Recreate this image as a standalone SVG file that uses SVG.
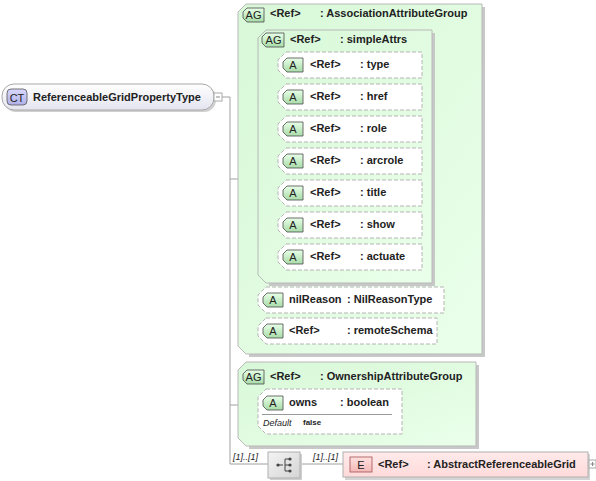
<svg xmlns="http://www.w3.org/2000/svg" width="596" height="481" viewBox="0 0 596 481">
<defs>
<linearGradient id="gG" x1="0" y1="0" x2="1" y2="1"><stop offset="0" stop-color="#d8f8d8"/><stop offset="1" stop-color="#eaffea"/></linearGradient>
<linearGradient id="gBadge" x1="0" y1="0" x2="0" y2="1"><stop offset="0" stop-color="#e8ffe8"/><stop offset="1" stop-color="#a8dca8"/></linearGradient>
<linearGradient id="gCT" x1="0" y1="0" x2="0" y2="1"><stop offset="0" stop-color="#ffffff"/><stop offset="1" stop-color="#e4e4f0"/></linearGradient>
<linearGradient id="gCTb" x1="0" y1="0" x2="0" y2="1"><stop offset="0" stop-color="#d8d8ff"/><stop offset="1" stop-color="#b0b0e8"/></linearGradient>
<linearGradient id="gE" x1="0" y1="0" x2="0" y2="1"><stop offset="0" stop-color="#ffeaea"/><stop offset="1" stop-color="#ffdada"/></linearGradient>
<linearGradient id="gEb" x1="0" y1="0" x2="0" y2="1"><stop offset="0" stop-color="#ffe0e0"/><stop offset="1" stop-color="#f4b8b8"/></linearGradient>
<linearGradient id="gS" x1="0" y1="0" x2="1" y2="1"><stop offset="0" stop-color="#f4f4f4"/><stop offset="1" stop-color="#d4d4d4"/></linearGradient>
</defs>
<style>
text{font-family:"Liberation Sans",Arial,sans-serif;font-size:11px;fill:#222}
.b{font-weight:bold}
.bd{font-size:11px;fill:#222}
.it{font-style:italic;font-size:9px}
.grp{fill:url(#gG);stroke:#b8b8b8;stroke-width:1}
.shd{fill:#c8c8c8;stroke:none}
.att{fill:#ffffff;stroke:#b4b4b4;stroke-width:1;stroke-dasharray:4,2}
.abg{fill:url(#gBadge);stroke:#4a4a4a;stroke-width:0.8}
.ln{fill:none;stroke:#a0a0a0;stroke-width:1}
</style>

<g id="connectors">
<path class="ln" d="M222,97 H230 V464 H268"/>
<path class="ln" d="M230,179 H238"/>
<path class="ln" d="M230,405 H238"/>
<path class="ln" d="M300,464 H343"/>
<path class="ln" d="M249,154 V331 H258 M249,154 H258 M249,300 H258"/>
<path class="ln" d="M268,65 V257 H278 M268,65 H278 M268,97 H278 M268,129 H278 M268,161 H278 M268,193 H278 M268,225 H278"/>
<path class="ln" d="M238,412 H258"/>
</g>

<g id="ct">
<rect x="4" y="86" width="212" height="26" rx="12" fill="#d0d0d0"/>
<rect x="2" y="84" width="212" height="26" rx="12" fill="url(#gCT)" stroke="#a8a8a8"/>
<rect x="7" y="89" width="20" height="16" rx="4" fill="url(#gCTb)" stroke="#555" stroke-width="0.8"/>
<text x="17" y="101.5" text-anchor="middle" class="bd">CT</text>
<text x="33" y="101" class="b">ReferenceableGridPropertyType</text>
<rect x="214" y="93" width="8" height="8" fill="#fff" stroke="#aaa"/>
<path d="M216,97 H220" stroke="#888"/>
</g>

<g id="ag-association">
<path class="shd" d="M249,7 H485 V357 H249 Z"/>
<path class="grp" d="M246,4 H482 V354 H246 L238,346 V12 Z"/>
<path class="abg" d="M247,8 H264 V22 H247 L243,18 V12 Z"/>
<text x="253.5" y="19" text-anchor="middle" class="bd">AG</text>
<text x="270" y="17" class="b">&lt;Ref&gt;</text>
<text x="320" y="17" class="b">: AssociationAttributeGroup</text>
</g>

<g id="ag-simpleattrs">
<path class="shd" d="M269,33 H435 V286 H269 Z"/>
<path class="grp" d="M266,30 H432 V283 H266 L258,275 V38 Z"/>
<path class="abg" d="M266,33 H284 V47 H266 L262,43 V37 Z"/>
<text x="273.5" y="44" text-anchor="middle" class="bd">AG</text>
<text x="290" y="43" class="b">&lt;Ref&gt;</text>
<text x="340" y="43" class="b">: simpleAttrs</text>
</g>

<g id="attr-type">
<path class="att" d="M286,52 H422 V78 H286 L278,70 V60 Z"/>
<path class="abg" d="M287,58 H303 V72 H287 L283,68 V62 Z"/>
<text x="293" y="69" text-anchor="middle" class="bd">A</text>
<text x="310" y="68" class="b">&lt;Ref&gt;</text>
<text x="360" y="68" class="b">: type</text>
</g>
<g id="attr-href">
<path class="att" d="M286,84 H422 V110 H286 L278,102 V92 Z"/>
<path class="abg" d="M287,90 H303 V104 H287 L283,100 V94 Z"/>
<text x="293" y="101" text-anchor="middle" class="bd">A</text>
<text x="310" y="100" class="b">&lt;Ref&gt;</text>
<text x="360" y="100" class="b">: href</text>
</g>
<g id="attr-role">
<path class="att" d="M286,116 H422 V142 H286 L278,134 V124 Z"/>
<path class="abg" d="M287,122 H303 V136 H287 L283,132 V126 Z"/>
<text x="293" y="133" text-anchor="middle" class="bd">A</text>
<text x="310" y="132" class="b">&lt;Ref&gt;</text>
<text x="360" y="132" class="b">: role</text>
</g>
<g id="attr-arcrole">
<path class="att" d="M286,148 H422 V174 H286 L278,166 V156 Z"/>
<path class="abg" d="M287,154 H303 V168 H287 L283,164 V158 Z"/>
<text x="293" y="165" text-anchor="middle" class="bd">A</text>
<text x="310" y="164" class="b">&lt;Ref&gt;</text>
<text x="360" y="164" class="b">: arcrole</text>
</g>
<g id="attr-title">
<path class="att" d="M286,180 H422 V206 H286 L278,198 V188 Z"/>
<path class="abg" d="M287,186 H303 V200 H287 L283,196 V190 Z"/>
<text x="293" y="197" text-anchor="middle" class="bd">A</text>
<text x="310" y="196" class="b">&lt;Ref&gt;</text>
<text x="360" y="196" class="b">: title</text>
</g>
<g id="attr-show">
<path class="att" d="M286,212 H422 V238 H286 L278,230 V220 Z"/>
<path class="abg" d="M287,218 H303 V232 H287 L283,228 V222 Z"/>
<text x="293" y="229" text-anchor="middle" class="bd">A</text>
<text x="310" y="228" class="b">&lt;Ref&gt;</text>
<text x="360" y="228" class="b">: show</text>
</g>
<g id="attr-actuate">
<path class="att" d="M286,244 H422 V270 H286 L278,262 V252 Z"/>
<path class="abg" d="M287,250 H303 V264 H287 L283,260 V254 Z"/>
<text x="293" y="261" text-anchor="middle" class="bd">A</text>
<text x="310" y="260" class="b">&lt;Ref&gt;</text>
<text x="360" y="260" class="b">: actuate</text>
</g>

<g id="attr-nilreason">
<path class="att" d="M266,287 H444 V313 H266 L258,305 V295 Z"/>
<path class="abg" d="M267,293 H283 V307 H267 L263,303 V297 Z"/>
<text x="273" y="304" text-anchor="middle" class="bd">A</text>
<text x="289" y="303" class="b">nilReason</text>
<text x="347" y="303" class="b">: NilReasonType</text>
</g>
<g id="attr-remoteschema">
<path class="att" d="M266,318 H437 V344 H266 L258,336 V326 Z"/>
<path class="abg" d="M267,324 H283 V338 H267 L263,334 V328 Z"/>
<text x="273" y="335" text-anchor="middle" class="bd">A</text>
<text x="289" y="334" class="b">&lt;Ref&gt;</text>
<text x="347" y="334" class="b">: remoteSchema</text>
</g>

<g id="ag-ownership">
<path class="shd" d="M249,365 H479 V449 H249 Z"/>
<path class="grp" d="M246,362 H476 V446 H246 L238,438 V370 Z"/>
<path class="abg" d="M247,370 H264 V384 H247 L243,380 V374 Z"/>
<text x="253.5" y="381" text-anchor="middle" class="bd">AG</text>
<text x="270" y="380" class="b">&lt;Ref&gt;</text>
<text x="320" y="380" class="b">: OwnershipAttributeGroup</text>
</g>
<g id="attr-owns">
<path class="att" d="M266,389 H402 V434 H266 L258,426 V397 Z"/>
<path class="abg" d="M267,396 H283 V410 H267 L263,406 V400 Z"/>
<text x="273" y="407" text-anchor="middle" class="bd">A</text>
<text x="289" y="406" class="b">owns</text>
<text x="340" y="406" class="b">: boolean</text>
<path d="M262,414.5 H392" stroke="#999" stroke-width="1"/>
<text x="263" y="426" class="it">Default</text>
<text x="303" y="425" style="font-size:8px;font-weight:bold">false</text>
</g>

<g id="sequence">
<text x="233" y="460" class="it">[1]..[1]</text>
<rect x="270" y="454" width="32" height="26" fill="#cfcfcf"/>
<rect x="268" y="452" width="32" height="26" fill="url(#gS)" stroke="#b0b0b0"/>
<path d="M278,465 H283 M285,459 V471 M285,459 H289 M285,465 H289 M285,471 H289" stroke="#444" fill="none"/>
<circle cx="278" cy="465" r="1.6" fill="#444"/>
<circle cx="290" cy="459" r="1.6" fill="#444"/>
<circle cx="290" cy="465" r="1.6" fill="#444"/>
<circle cx="290" cy="471" r="1.6" fill="#444"/>
<text x="313" y="460" class="it">[1]..[1]</text>
</g>

<g id="element">
<rect x="345" y="454" width="245" height="26" fill="#d4d4d4"/>
<rect x="343" y="452" width="245" height="25" fill="url(#gE)" stroke="#b0b0b0"/>
<rect x="350" y="457" width="22" height="15" fill="url(#gEb)" stroke="#a05050" stroke-width="0.8"/>
<text x="361" y="468.5" text-anchor="middle" class="bd">E</text>
<text x="378" y="468" class="b">&lt;Ref&gt;</text>
<text x="427" y="468" class="b">: AbstractReferenceableGrid</text>
<rect x="589" y="460" width="7" height="8" fill="#fff" stroke="#aaa"/>
<path d="M590.5,464 H594.5 M592.5,462 V466" stroke="#888"/>
</g>
</svg>
